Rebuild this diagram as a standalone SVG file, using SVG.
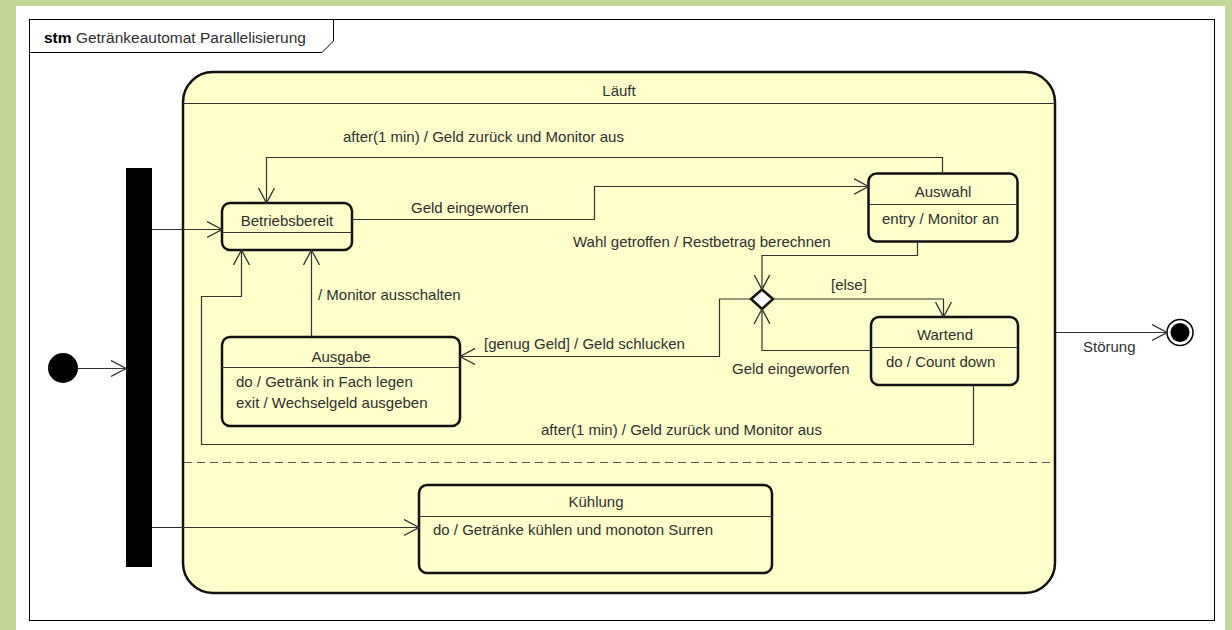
<svg xmlns="http://www.w3.org/2000/svg" width="1232" height="630" viewBox="0 0 1232 630">
  <style>
    text { font-family: "Liberation Sans", Arial, sans-serif; font-size: 15px; fill: #303030; }
    .c { text-anchor: middle; }
    .state { fill: #ffffcc; stroke: #111; stroke-width: 2.5; }
    .div { stroke: #333; stroke-width: 1; fill: none; }
    .edge { fill: none; stroke: #333; stroke-width: 1.2; marker-end: url(#open); }
  </style>
  <defs>
    <marker id="open" viewBox="0 0 16 18" refX="15" refY="9" markerWidth="16" markerHeight="18" markerUnits="userSpaceOnUse" orient="auto">
      <path d="M0,1 L15,9 L0,17" fill="none" stroke="#333" stroke-width="1.3"/>
    </marker>
  </defs>

  <!-- page background and frame -->
  <rect x="0" y="0" width="1232" height="630" fill="#c4d79b"/>
  <rect x="16" y="6" width="1209" height="624" fill="#ffffff"/>
  <g id="frame">
    <rect x="29.5" y="19.5" width="1185" height="601" fill="none" stroke="#000" stroke-width="1"/>
    <path d="M29.5,52.5 H322 L333.5,41 V19.5" fill="none" stroke="#000" stroke-width="1"/>
    <text x="44" y="43" style="font-size:15.5px"><tspan font-weight="bold" fill="#000">stm</tspan> Getränkeautomat Parallelisierung</text>
  </g>

  <!-- composite state -->
  <g id="laeuft">
    <rect class="state" x="183" y="72" width="872" height="521" rx="30" ry="30"/>
    <line class="div" x1="183" y1="103.5" x2="1055" y2="103.5"/>
    <text class="c" x="619" y="96">Läuft</text>
    <line x1="184" y1="462.5" x2="1054" y2="462.5" stroke="#555" stroke-width="1.2" stroke-dasharray="8,5"/>
  </g>

  <!-- pseudostates -->
  <g id="initial">
    <circle cx="63" cy="368" r="15" fill="#000"/>
  </g>
  <g id="fork">
    <rect x="126" y="168" width="26" height="399" fill="#000"/>
  </g>
  <g id="choice">
    <path d="M762,289.5 L773,299 L762,309 L751,299 Z" fill="#fff" stroke="#111" stroke-width="2.5"/>
  </g>
  <g id="final">
    <circle cx="1180" cy="332.5" r="13" fill="#fff" stroke="#000" stroke-width="1.5"/>
    <circle cx="1180" cy="332.5" r="9.5" fill="#000"/>
  </g>

  <!-- states -->
  <g id="betriebsbereit">
    <rect class="state" x="222" y="203" width="130" height="47" rx="8"/>
    <line class="div" x1="222" y1="232.5" x2="352" y2="232.5"/>
    <text class="c" x="287" y="226">Betriebsbereit</text>
  </g>
  <g id="auswahl">
    <rect class="state" x="868.5" y="173.5" width="149" height="68" rx="8"/>
    <line class="div" x1="868.5" y1="204.5" x2="1017.5" y2="204.5"/>
    <text class="c" x="943" y="197">Auswahl</text>
    <text x="882" y="224">entry / Monitor an</text>
  </g>
  <g id="wartend">
    <rect class="state" x="871" y="317" width="147" height="68" rx="8"/>
    <line class="div" x1="871" y1="347.5" x2="1018" y2="347.5"/>
    <text class="c" x="945" y="340">Wartend</text>
    <text x="886" y="367">do / Count down</text>
  </g>
  <g id="ausgabe">
    <rect class="state" x="222" y="337" width="238" height="89" rx="8"/>
    <line class="div" x1="222" y1="367.5" x2="460" y2="367.5"/>
    <text class="c" x="341" y="362">Ausgabe</text>
    <text x="236" y="387">do / Getränk in Fach legen</text>
    <text x="236" y="407.5">exit / Wechselgeld ausgeben</text>
  </g>
  <g id="kuehlung">
    <rect class="state" x="419" y="485" width="353" height="88" rx="8"/>
    <line class="div" x1="419" y1="516.5" x2="772" y2="516.5"/>
    <text class="c" x="596" y="507">Kühlung</text>
    <text x="433" y="535">do / Getränke kühlen und monoton Surren</text>
  </g>

  <!-- transitions -->
  <g id="connectors">
    <path class="edge" d="M78,368.5 H126"/>
    <path class="edge" d="M152,229.5 H222"/>
    <path class="edge" d="M152,527.5 H419"/>
    <path class="edge" d="M942.5,173.5 V157.5 H266.5 V203"/>
    <path class="edge" d="M352,219.5 H594.5 V186.5 H868.5"/>
    <path class="edge" d="M917.5,241.5 V255.5 H762 V289.5"/>
    <path class="edge" d="M773,299 H943.5 V317"/>
    <path class="edge" d="M871,350.5 H762 V309"/>
    <path class="edge" d="M751,299 H719.5 V356.5 H460"/>
    <path class="edge" d="M311.5,337 V250"/>
    <path class="edge" d="M973.5,385 V444.5 H201.5 V296.5 H241.5 V250"/>
    <path class="edge" d="M1055,332.5 H1167"/>

    <text x="343" y="142">after(1 min) / Geld zurück und Monitor aus</text>
    <text x="411" y="213">Geld eingeworfen</text>
    <text x="573" y="247">Wahl getroffen / Restbetrag berechnen</text>
    <text x="831" y="290">[else]</text>
    <text x="732" y="374">Geld eingeworfen</text>
    <text x="484" y="349">[genug Geld] / Geld schlucken</text>
    <text x="318" y="300">/ Monitor ausschalten</text>
    <text x="541" y="435">after(1 min) / Geld zurück und Monitor aus</text>
    <text x="1083" y="352">Störung</text>
  </g>
</svg>
